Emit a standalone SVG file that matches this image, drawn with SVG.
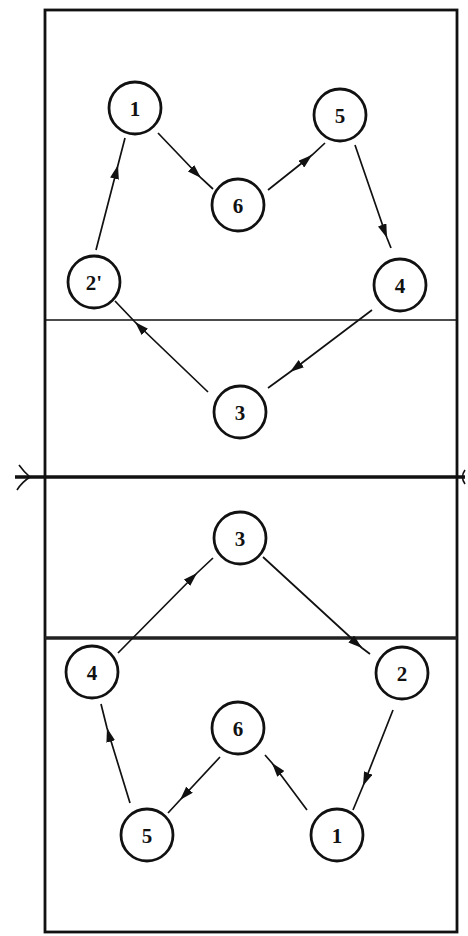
<svg xmlns="http://www.w3.org/2000/svg" width="468" height="936" viewBox="0 0 468 936">
<style>
.court{fill:none;stroke:#111;stroke-width:2.8}
.node circle{fill:#fff;stroke:#111;stroke-width:2.8}
.node text{font-family:"Liberation Serif","DejaVu Serif",serif;font-weight:bold;font-size:21px;fill:#111;text-anchor:middle;dominant-baseline:central}
.edge{fill:none;stroke:#111;stroke-width:1.7;marker-mid:url(#arr)}
</style>
<defs>
<marker id="arr" viewBox="0 0 14 9" refX="14" refY="4.5" markerWidth="14" markerHeight="9" markerUnits="userSpaceOnUse" orient="auto">
<path d="M0,0 L14,4.5 L0,9 Z" fill="#111"/>
</marker>
</defs>
<rect width="468" height="936" fill="#fff"/>
<g id="court">
<rect class="court" x="45" y="10" width="412" height="922"/>
<line x1="45" y1="320" x2="457" y2="320" stroke="#111" stroke-width="1.7"/>
<line x1="15" y1="477" x2="465" y2="477" stroke="#111" stroke-width="3.4"/>
<path d="M19,465 Q24,472 30,477 Q22,482 17,490" fill="none" stroke="#111" stroke-width="1.6"/>
<path d="M465,470 Q460,477 465,484" fill="none" stroke="#111" stroke-width="1.6"/>
<line x1="45" y1="638" x2="457" y2="638" stroke="#222" stroke-width="3.6"/>
</g>
<g id="connectors">
<path class="edge" d="M96,250 L118,165 L125,138"/>
<path class="edge" d="M158,133 L201,178 L213,189"/>
<path class="edge" d="M268,190 L312,155 L325,143"/>
<path class="edge" d="M355,145 L387,238 L391,248"/>
<path class="edge" d="M372,310 L290,372 L268,388"/>
<path class="edge" d="M208,392 L135,322 L115,301"/>
<path class="edge" d="M263,557 L362,648 L370,654"/>
<path class="edge" d="M393,710 L363,786 L353,810"/>
<path class="edge" d="M307,810 L272,763 L265,755"/>
<path class="edge" d="M220,757 L180,800 L168,813"/>
<path class="edge" d="M130,803 L107,728 L101,704"/>
<path class="edge" d="M118,653 L197,573 L213,558"/>
</g>
<g id="top-1" class="node"><circle cx="135" cy="108" r="26"/><text x="135" y="109">1</text></g>
<g id="top-6" class="node"><circle cx="238" cy="205" r="26"/><text x="238" y="206">6</text></g>
<g id="top-5" class="node"><circle cx="340" cy="115" r="26"/><text x="340" y="116">5</text></g>
<g id="top-2" class="node"><circle cx="94" cy="282" r="26"/><text x="94" y="283">2'</text></g>
<g id="top-4" class="node"><circle cx="400" cy="285" r="26"/><text x="400" y="286">4</text></g>
<g id="top-3" class="node"><circle cx="240" cy="412" r="26"/><text x="240" y="413">3</text></g>
<g id="bot-3" class="node"><circle cx="240" cy="538" r="26"/><text x="240" y="539">3</text></g>
<g id="bot-4" class="node"><circle cx="92" cy="672" r="26"/><text x="92" y="673">4</text></g>
<g id="bot-2" class="node"><circle cx="402" cy="673" r="26"/><text x="402" y="674">2</text></g>
<g id="bot-6" class="node"><circle cx="238" cy="728" r="26"/><text x="238" y="729">6</text></g>
<g id="bot-5" class="node"><circle cx="147" cy="835" r="26"/><text x="147" y="836">5</text></g>
<g id="bot-1" class="node"><circle cx="337" cy="835" r="26"/><text x="337" y="836">1</text></g>
</svg>
